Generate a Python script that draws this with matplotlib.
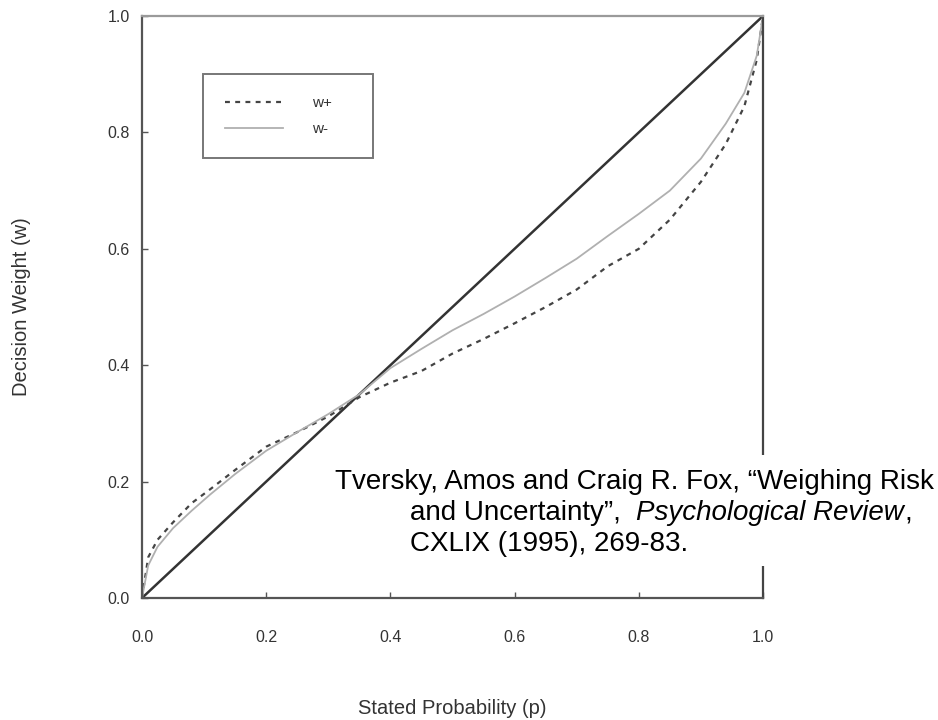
import numpy as np
import matplotlib
matplotlib.use("Agg")
import matplotlib.pyplot as plt
from matplotlib.patches import Rectangle

plt.rcParams['font.family'] = ['Liberation Sans', 'DejaVu Sans']

# Values (Tversky & Fox 1995)
p = [0.0, 0.01, 0.025, 0.05, 0.08, 0.11, 0.15, 0.2, 0.25, 0.3, 0.35, 0.4,
     0.45, 0.5, 0.55, 0.6, 0.65, 0.7, 0.75, 0.8, 0.85, 0.9, 0.94, 0.97,
     0.99, 1.0]
w_plus = [0.0, 0.07, 0.10, 0.13, 0.163, 0.187, 0.22, 0.26, 0.285, 0.312,
          0.345, 0.37, 0.39, 0.42, 0.445, 0.472, 0.50, 0.53, 0.57, 0.60,
          0.65, 0.715, 0.78, 0.845, 0.925, 1.0]
w_minus = [0.0, 0.056, 0.088, 0.12, 0.15, 0.178, 0.213, 0.253, 0.285, 0.316,
           0.35, 0.395, 0.428, 0.46, 0.488, 0.518, 0.55, 0.583, 0.622, 0.66,
           0.70, 0.755, 0.815, 0.868, 0.932, 1.0]
diag = [0.0, 1.0]
ticks = [0.0, 0.2, 0.4, 0.6, 0.8, 1.0]
tick_labels = ["0.0", "0.2", "0.4", "0.6", "0.8", "1.0"]

W, H = 938, 720
fig = plt.figure(figsize=(W / 100, H / 100), dpi=100)
ax = fig.add_axes([142 / W, 1 - 598 / H, 621 / W, 582 / H])

ax.plot(diag, diag, color="#333333", lw=1.8, solid_capstyle="butt")
ax.plot(p, w_plus, color="#444444", lw=1.6, dashes=(2.2, 2.4), label="w+")
ax.plot(p, w_minus, color="#b0b0b0", lw=1.3, label="w-")

ax.set_xlim(0, 1)
ax.set_ylim(0, 1)
ax.set_xticks(ticks)
ax.set_xticklabels(tick_labels)
ax.set_yticks(ticks)
ax.set_yticklabels(tick_labels)
ax.tick_params(direction="in", length=4, width=1, colors="#555555",
               labelcolor="#333333", labelsize=11.5)
ax.tick_params(axis="x", pad=23)
ax.tick_params(axis="y", pad=9)

for side, c in [("left", "#555555"), ("bottom", "#555555"),
                ("right", "#444444"), ("top", "#9a9a9a")]:
    ax.spines[side].set_color(c)
    ax.spines[side].set_linewidth(1.6)

ax.set_xlabel("Stated Probability (p)", fontsize=14.5, color="#333333",
              labelpad=39)
ax.set_ylabel("Decision Weight (w)", fontsize=14.5, color="#333333",
              labelpad=55)

leg = ax.legend(loc="upper left",
                bbox_to_anchor=(203 / W, 1 - 74 / H, 170 / W, 0),
                bbox_transform=fig.transFigure, mode="expand",
                fontsize=11, handlelength=3.8, handletextpad=1.9,
                labelspacing=0.78, borderpad=1.45, borderaxespad=0,
                fancybox=False, frameon=True)
leg.get_frame().set_edgecolor("#555555")
leg.get_frame().set_linewidth(1.4)
for t in leg.get_texts():
    t.set_color("#333333")

# citation block covering part of the right spine
fig.patches.append(Rectangle((330 / W, 1 - 566 / H), (W - 330) / W, 111 / H,
                             transform=fig.transFigure, facecolor="white",
                             edgecolor="none", zorder=5))
fs = 20
fig.text(335 / W, 1 - 489 / H,
         "Tversky, Amos and Craig R. Fox, \u201cWeighing Risk",
         fontsize=fs, color="black", zorder=6)
t1 = fig.text(410 / W, 1 - 520 / H, "and Uncertainty\u201d,  ",
              fontsize=fs, color="black", zorder=6)
fig.canvas.draw()
r = fig.canvas.get_renderer()
x1 = t1.get_window_extent(r).x1
t2 = fig.text(x1 / W, 1 - 520 / H, "Psychological Review",
              fontsize=fs, style="italic", color="black", zorder=6)
x2 = t2.get_window_extent(r).x1
fig.text(x2 / W, 1 - 520 / H, ",", fontsize=fs, color="black", zorder=6)
fig.text(410 / W, 1 - 551 / H, "CXLIX (1995), 269-83.",
         fontsize=fs, color="black", zorder=6)

fig.savefig("out.png", dpi=100)
